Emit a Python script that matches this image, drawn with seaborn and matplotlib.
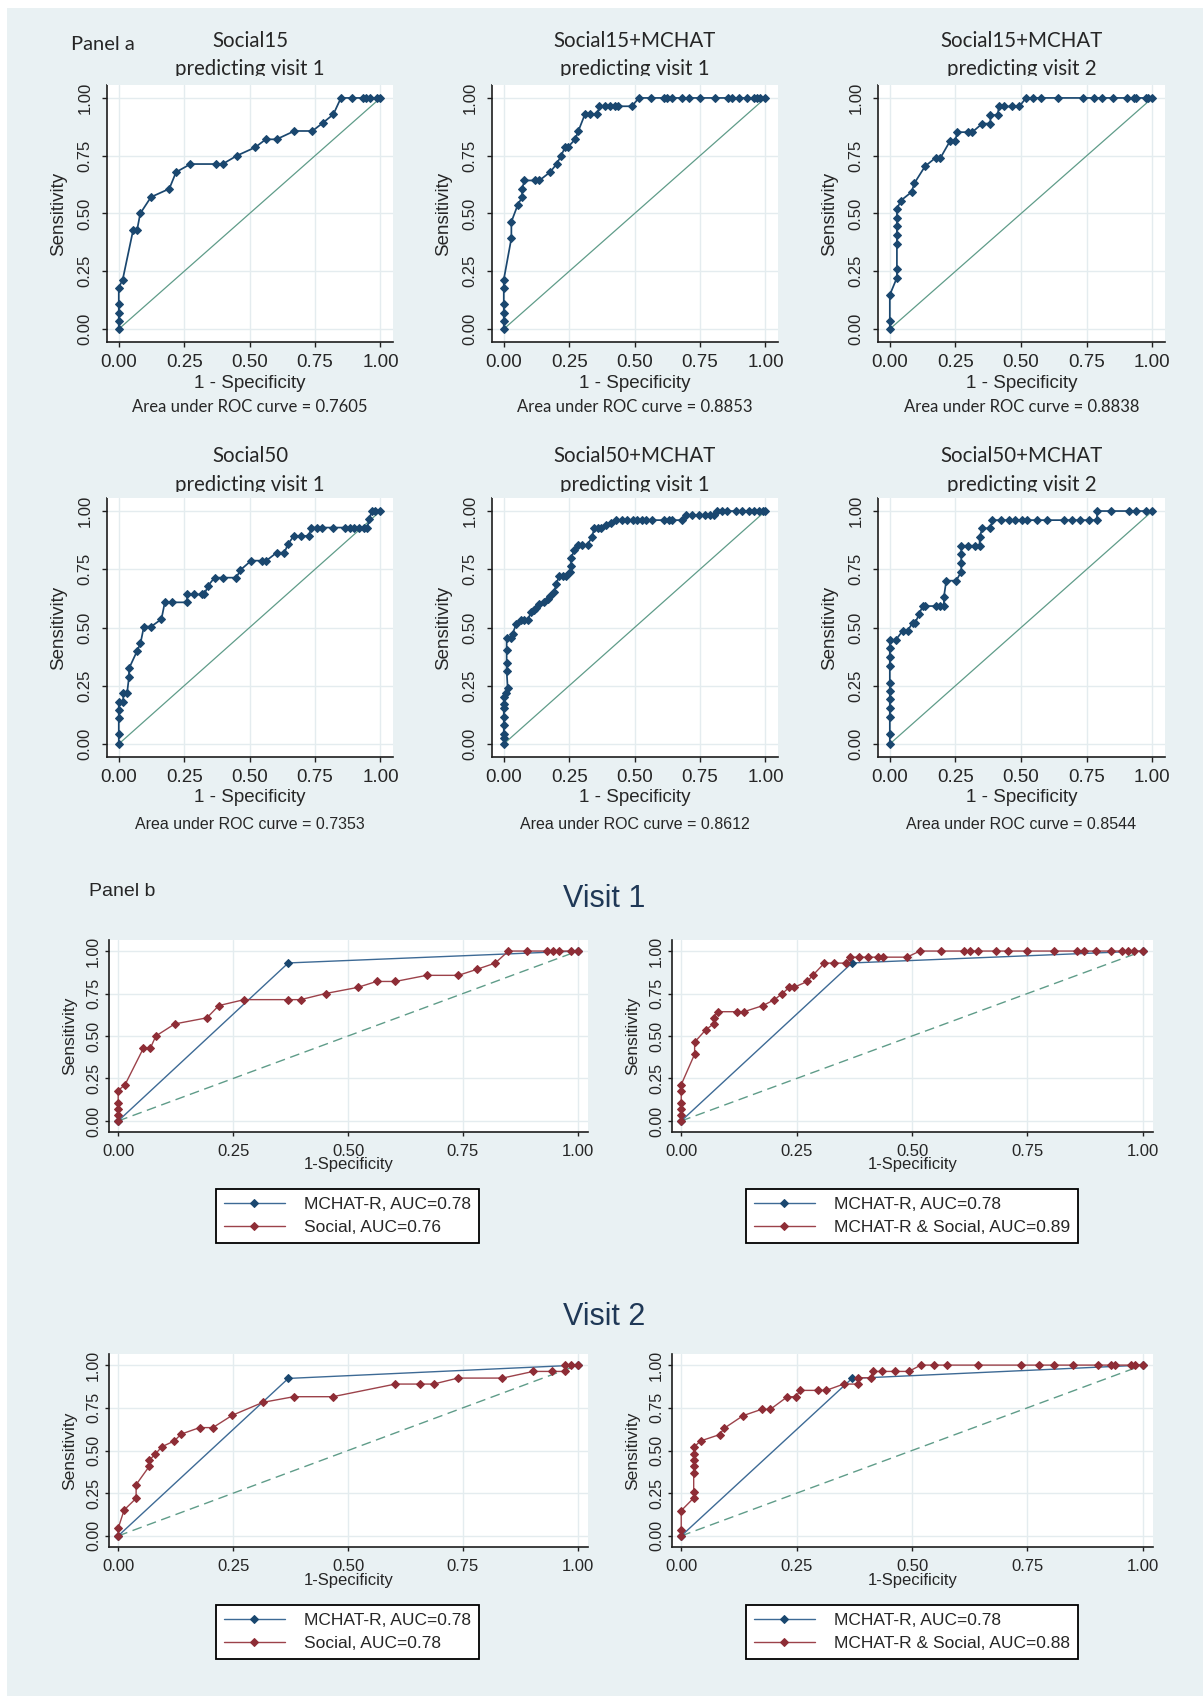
import matplotlib
matplotlib.use("Agg")
import matplotlib.pyplot as plt
import seaborn as sns
from matplotlib.patches import Rectangle

# ==============================
# DATA
# ==============================

TICKS = [0, 0.25, 0.5, 0.75, 1.0]
TICK_LABELS = ["0.00", "0.25", "0.50", "0.75", "1.00"]

# Social15 predicting visit 1
s15_v1_fpr = [0, 0, 0, 0, 0, 0.015, 0.055, 0.07, 0.082, 0.123, 0.193, 0.219, 0.274, 0.37, 0.397,
              0.451, 0.521, 0.562, 0.603, 0.671, 0.74, 0.781, 0.82, 0.849, 0.89, 0.932, 0.945,
              0.959, 0.986, 1.0]
s15_v1_tpr = [0, 0.036, 0.071, 0.107, 0.179, 0.214, 0.429, 0.429, 0.5, 0.571, 0.607, 0.679, 0.714,
              0.714, 0.714, 0.75, 0.786, 0.821, 0.821, 0.857, 0.857, 0.893, 0.929, 1.0, 1.0, 1.0,
              1.0, 1.0, 1.0, 1.0]

# Social15+MCHAT predicting visit 1
s15m_v1_fpr = [0, 0, 0, 0, 0, 0, 0.029, 0.029, 0.053, 0.07, 0.07, 0.079, 0.121, 0.136, 0.177,
               0.202, 0.219, 0.234, 0.244, 0.273, 0.285, 0.31, 0.33, 0.358, 0.365, 0.386, 0.405,
               0.426, 0.437, 0.489, 0.517, 0.562, 0.612, 0.625, 0.642, 0.682, 0.708, 0.75, 0.807,
               0.858, 0.873, 0.898, 0.93, 0.955, 0.968, 0.981, 1.0]
s15m_v1_tpr = [0, 0.036, 0.071, 0.107, 0.179, 0.214, 0.393, 0.464, 0.536, 0.571, 0.607, 0.643,
               0.643, 0.643, 0.679, 0.714, 0.75, 0.786, 0.786, 0.821, 0.857, 0.929, 0.929, 0.929,
               0.964, 0.964, 0.964, 0.964, 0.964, 0.964, 1, 1, 1, 1, 1, 1, 1, 1, 1, 1, 1, 1, 1,
               1, 1, 1, 1]

# Social15+MCHAT predicting visit 2
s15m_v2_fpr = [0, 0, 0, 0.027, 0.027, 0.027, 0.027, 0.027, 0.027, 0.027, 0.042, 0.083, 0.093,
               0.134, 0.174, 0.193, 0.23, 0.249, 0.257, 0.297, 0.314, 0.352, 0.383, 0.383, 0.411,
               0.415, 0.434, 0.464, 0.493, 0.519, 0.547, 0.575, 0.642, 0.736, 0.776, 0.808,
               0.849, 0.902, 0.93, 0.939, 0.974, 0.983, 1.0]
s15m_v2_tpr = [0, 0.036, 0.148, 0.222, 0.259, 0.37, 0.407, 0.444, 0.481, 0.519, 0.556, 0.593,
               0.63, 0.704, 0.741, 0.741, 0.815, 0.815, 0.852, 0.852, 0.852, 0.889, 0.889, 0.926,
               0.926, 0.963, 0.963, 0.963, 0.963, 1, 1, 1, 1, 1, 1, 1, 1, 1, 1, 1, 1, 1, 1]

# Social50 predicting visit 1
s50_v1_fpr = [0, 0, 0, 0, 0, 0.017, 0.017, 0.032, 0.039, 0.039, 0.07, 0.083, 0.096, 0.124, 0.163,
              0.176, 0.204, 0.261, 0.261, 0.287, 0.318, 0.327, 0.341, 0.366, 0.398, 0.449, 0.465,
              0.506, 0.548, 0.564, 0.603, 0.633, 0.646, 0.669, 0.698, 0.726, 0.736, 0.758, 0.777,
              0.819, 0.866, 0.882, 0.9, 0.917, 0.936, 0.949, 0.958, 0.966, 0.981, 1.0]
s50_v1_tpr = [0, 0.043, 0.11, 0.146, 0.18, 0.18, 0.22, 0.22, 0.288, 0.324, 0.399, 0.432, 0.504,
              0.504, 0.536, 0.608, 0.608, 0.608, 0.642, 0.642, 0.642, 0.642, 0.679, 0.714, 0.714,
              0.714, 0.747, 0.787, 0.787, 0.787, 0.821, 0.821, 0.857, 0.893, 0.893, 0.893, 0.929,
              0.929, 0.929, 0.929, 0.929, 0.929, 0.929, 0.929, 0.929, 0.929, 0.964, 1.0, 1.0, 1.0]

# Social50+MCHAT predicting visit 1
s50m_v1_fpr = [0, 0, 0, 0, 0, 0, 0, 0, 0.009, 0.015, 0.011, 0.011, 0.011, 0.011, 0.028, 0.034,
               0.047, 0.066, 0.079, 0.091, 0.104, 0.115, 0.123, 0.136, 0.155, 0.168, 0.178, 0.193,
               0.2, 0.212, 0.225, 0.238, 0.254, 0.257, 0.257, 0.27, 0.282, 0.3, 0.32, 0.337,
               0.346, 0.36, 0.371, 0.39, 0.41, 0.428, 0.45, 0.47, 0.492, 0.51, 0.53, 0.543, 0.568,
               0.612, 0.63, 0.644, 0.682, 0.695, 0.72, 0.746, 0.77, 0.79, 0.803, 0.816, 0.835,
               0.854, 0.886, 0.91, 0.936, 0.955, 0.975, 0.99, 1.0]
s50m_v1_tpr = [0, 0.024, 0.043, 0.082, 0.114, 0.153, 0.172, 0.203, 0.217, 0.239, 0.313, 0.346,
               0.403, 0.456, 0.456, 0.474, 0.513, 0.532, 0.532, 0.532, 0.565, 0.575, 0.582, 0.601,
               0.611, 0.621, 0.637, 0.654, 0.685, 0.722, 0.722, 0.722, 0.739, 0.764, 0.797, 0.833,
               0.854, 0.854, 0.854, 0.89, 0.926, 0.926, 0.926, 0.94, 0.947, 0.961, 0.961, 0.961,
               0.961, 0.961, 0.961, 0.961, 0.961, 0.961, 0.961, 0.961, 0.961, 0.983, 0.983, 0.983,
               0.983, 0.983, 0.983, 1.0, 1.0, 1.0, 1.0, 1.0, 1.0, 1.0, 1.0, 1.0, 1.0]

# Social50+MCHAT predicting visit 2
s50m_v2_fpr = [0, 0, 0, 0, 0, 0, 0, 0, 0, 0, 0, 0.023, 0.049, 0.068, 0.087, 0.097, 0.112, 0.125,
               0.135, 0.174, 0.19, 0.206, 0.206, 0.215, 0.253, 0.272, 0.272, 0.272, 0.272, 0.298,
               0.323, 0.342, 0.342, 0.352, 0.383, 0.391, 0.425, 0.455, 0.476, 0.502, 0.521, 0.559,
               0.598, 0.662, 0.693, 0.725, 0.757, 0.789, 0.789, 0.843, 0.911, 0.936, 0.975, 1.0]
s50m_v2_tpr = [0, 0.043, 0.117, 0.153, 0.192, 0.227, 0.263, 0.335, 0.375, 0.411, 0.447, 0.447,
               0.486, 0.486, 0.521, 0.521, 0.558, 0.592, 0.592, 0.592, 0.592, 0.592, 0.632, 0.701,
               0.701, 0.74, 0.775, 0.815, 0.851, 0.851, 0.851, 0.851, 0.887, 0.926, 0.926, 0.961,
               0.961, 0.961, 0.961, 0.961, 0.961, 0.961, 0.961, 0.961, 0.961, 0.961, 0.961, 0.961,
               1.0, 1.0, 1.0, 1.0, 1.0, 1.0]

# Social predicting visit 2 (panel b)
soc_v2_fpr = [0, 0, 0.013, 0.039, 0.039, 0.068, 0.068, 0.081, 0.095, 0.122, 0.137, 0.177, 0.206,
              0.248, 0.315, 0.382, 0.467, 0.603, 0.657, 0.686, 0.739, 0.836, 0.903, 0.943, 0.973,
              0.973, 0.986, 1.0]
soc_v2_tpr = [0, 0.045, 0.152, 0.22, 0.30, 0.409, 0.444, 0.48, 0.522, 0.556, 0.596, 0.634, 0.634,
              0.706, 0.782, 0.815, 0.815, 0.889, 0.889, 0.889, 0.924, 0.924, 0.963, 0.963, 0.963,
              1.0, 1.0, 1.0]

# MCHAT-R alone
mchat_v1_fpr = [0, 0.37, 1.0]
mchat_v1_tpr = [0, 0.93, 1.0]
mchat_v2_fpr = [0, 0.37, 1.0]
mchat_v2_tpr = [0, 0.922, 1.0]

PANEL_A = [
    ("Social15", "predicting visit 1", s15_v1_fpr, s15_v1_tpr, "Area under ROC curve = 0.7605"),
    ("Social15+MCHAT", "predicting visit 1", s15m_v1_fpr, s15m_v1_tpr, "Area under ROC curve = 0.8853"),
    ("Social15+MCHAT", "predicting visit 2", s15m_v2_fpr, s15m_v2_tpr, "Area under ROC curve = 0.8838"),
    ("Social50", "predicting visit 1", s50_v1_fpr, s50_v1_tpr, "Area under ROC curve = 0.7353"),
    ("Social50+MCHAT", "predicting visit 1", s50m_v1_fpr, s50m_v1_tpr, "Area under ROC curve = 0.8612"),
    ("Social50+MCHAT", "predicting visit 2", s50m_v2_fpr, s50m_v2_tpr, "Area under ROC curve = 0.8544"),
]

PANEL_B = [
    (mchat_v1_fpr, mchat_v1_tpr, "MCHAT-R, AUC=0.78", s15_v1_fpr, s15_v1_tpr, "Social, AUC=0.76"),
    (mchat_v1_fpr, mchat_v1_tpr, "MCHAT-R, AUC=0.78", s15m_v1_fpr, s15m_v1_tpr, "MCHAT-R & Social, AUC=0.89"),
    (mchat_v2_fpr, mchat_v2_tpr, "MCHAT-R, AUC=0.78", soc_v2_fpr, soc_v2_tpr, "Social, AUC=0.78"),
    (mchat_v2_fpr, mchat_v2_tpr, "MCHAT-R, AUC=0.78", s15m_v2_fpr, s15m_v2_tpr, "MCHAT-R & Social, AUC=0.88"),
]

# ==============================
# STYLE / LAYOUT (pixels of the 1203x1696 canvas)
# ==============================

W, H = 1203, 1696
BG = "#e9f1f3"
GRID = "#e4ecef"
NAVY = "#1a476f"
BLUE_LINE = "#3d6a95"
RED = "#8e2d36"
RED_LINE = "#9c424a"
REF = "#5f9c89"
TITLE_FONT = ["Lato", "DejaVu Sans"]

# (left, top, right, bottom)
A_BOXES = [(107, 85, 393, 342), (492, 85, 778, 342), (878, 85, 1165, 342),
           (107, 498, 393, 757), (492, 498, 778, 757), (878, 498, 1165, 757)]
A_TITLE_BASE = {85: (47, 75, 76), 498: (462, 491, 492)}
A_XLABEL_Y = {85: 384, 498: 798}
A_AUC_Y = {85: 407, 498: 824}

B_BOXES = [(109, 940, 588, 1132), (672, 940, 1153, 1132),
           (109, 1354, 588, 1547), (672, 1354, 1153, 1547)]
B_XLABEL_Y = {940: 1165, 1354: 1580}
B_LEGEND_Y = {940: 1216, 1354: 1632}
B_LEGEND_X = {109: 347.5, 672: 912}

sns.set_style("ticks")
plt.rcParams["font.family"] = ["Liberation Sans", "DejaVu Sans"]


def add_px_axes(fig, box):
    left, top, right, bottom = box
    return fig.add_axes([left / W, 1 - bottom / H, (right - left) / W, (bottom - top) / H])


def style_axes(ax, xlim, ylim, xfs, yfs, xpad, ypad, ticklen):
    ax.set_facecolor("white")
    ax.set_xlim(*xlim)
    ax.set_ylim(*ylim)
    ax.set_xticks(TICKS)
    ax.set_yticks(TICKS)
    ax.set_xticklabels(TICK_LABELS, fontsize=xfs)
    ax.set_yticklabels(TICK_LABELS, fontsize=yfs, rotation=90, va="center")
    ax.grid(True, color=GRID, linewidth=1.0)
    ax.set_axisbelow(True)
    sns.despine(ax=ax)
    for side in ("left", "bottom"):
        ax.spines[side].set_linewidth(1.2)
        ax.spines[side].set_color("#1e1e1e")
    ax.tick_params(axis="both", direction="out", length=ticklen, width=1.0, color="#1e1e1e")
    ax.tick_params(axis="x", pad=xpad)
    ax.tick_params(axis="y", pad=ypad)


def set_labels(ax, box, xlabel, xlabel_y, ylabel_dx, fs_x, fs_y):
    left, top, right, bottom = box
    ax.set_xlabel(xlabel, fontsize=fs_x, va="center")
    ax.xaxis.set_label_coords(0.5, (bottom - xlabel_y) / (bottom - top))
    ax.set_ylabel("Sensitivity", fontsize=fs_y, va="center")
    ax.yaxis.set_label_coords(ylabel_dx / (right - left), 0.5)


fig = plt.figure(figsize=(W / 100, H / 100), dpi=100, facecolor="white")
fig.add_artist(Rectangle((7 / W, 0), 1, 1 - 8 / H, transform=fig.transFigure,
                         facecolor=BG, edgecolor="none", zorder=-5))

# ==============================
# PANEL A
# ==============================

fig.text(71 / W, 1 - 50 / H, "Panel a", family=TITLE_FONT, fontsize=14.5,
         ha="left", va="baseline")

for box, (t1, t2, fpr, tpr, auc) in zip(A_BOXES, PANEL_A):
    left, top, right, bottom = box
    ax = add_px_axes(fig, box)
    ax.plot([0, 1], [0, 1], color=REF, linewidth=0.9, zorder=2)
    sns.lineplot(x=fpr, y=tpr, ax=ax, sort=False, estimator=None, color=NAVY,
                 linewidth=1.25, marker="D", markersize=4.1, markeredgecolor=NAVY,
                 markerfacecolor=NAVY, zorder=3)
    style_axes(ax, (-0.045, 1.048), (-0.056, 1.056), 13.5, 12, 5.2, 7, 3.6)
    set_labels(ax, box, "1 - Specificity", A_XLABEL_Y[top], -48, 13.5, 13.5)

    cx = (left + right) / 2
    b1, b2, clip = A_TITLE_BASE[top]
    fig.text(cx / W, 1 - b1 / H, t1, family=TITLE_FONT, fontsize=14.8, ha="center", va="baseline")
    fig.text(cx / W, 1 - b2 / H, t2, family=TITLE_FONT, fontsize=14.8, ha="center", va="baseline")
    # the second title line is cut at its baseline in the original
    fig.add_artist(Rectangle((left / W, 1 - top / H), (right - left) / W, (top - clip) / H,
                             transform=fig.transFigure, facecolor=BG, edgecolor="none", zorder=5))
    auc_font = TITLE_FONT if top == 85 else ["Liberation Sans", "DejaVu Sans"]
    auc_size = 12 if top == 85 else 11.5
    fig.text(cx / W, 1 - A_AUC_Y[top] / H, auc, family=auc_font, fontsize=auc_size,
             ha="center", va="center")

# ==============================
# PANEL B
# ==============================

fig.text(89 / W, 1 - 892 / H, "Panel b", fontsize=14, ha="left", va="center")
fig.text(604 / W, 1 - 899 / H, "Visit 1", fontsize=22, color="#1f3856", ha="center", va="center")
fig.text(604 / W, 1 - 1317 / H, "Visit 2", fontsize=22, color="#1f3856", ha="center", va="center")

for box, (mf, mt, mlab, sf, st, slab) in zip(B_BOXES, PANEL_B):
    left, top, right, bottom = box
    ax = add_px_axes(fig, box)
    ax.plot([0, 1], [0, 1], color=REF, linewidth=1.0, dashes=(7, 4), zorder=2)
    sns.lineplot(x=mf, y=mt, ax=ax, sort=False, estimator=None, color=BLUE_LINE,
                 linewidth=1.0, marker="D", markersize=4.0, markeredgecolor=NAVY,
                 markerfacecolor=NAVY, zorder=3)
    h_m = ax.lines[-1]
    sns.lineplot(x=sf, y=st, ax=ax, sort=False, estimator=None, color=RED_LINE,
                 linewidth=1.0, marker="D", markersize=4.0, markeredgecolor=RED,
                 markerfacecolor=RED, zorder=4)
    h_s = ax.lines[-1]
    style_axes(ax, (-0.02, 1.022), (-0.065, 1.065), 12, 11.5, 5.3, 2.6, 3.2)
    set_labels(ax, box, "1-Specificity", B_XLABEL_Y[top], -39, 12, 12.5)

    leg = ax.legend(handles=[h_m, h_s], labels=[mlab, slab], loc="center",
                    bbox_to_anchor=(B_LEGEND_X[left] / W, 1 - B_LEGEND_Y[top] / H),
                    bbox_transform=fig.transFigure, frameon=True, fancybox=False,
                    framealpha=1, edgecolor="black", facecolor="white", fontsize=12.5,
                    handlelength=3.5, handletextpad=1.1, borderpad=0.45,
                    labelspacing=0.45, borderaxespad=0)
    leg.get_frame().set_linewidth(1.3)

fig.savefig("out.png", dpi=100)
